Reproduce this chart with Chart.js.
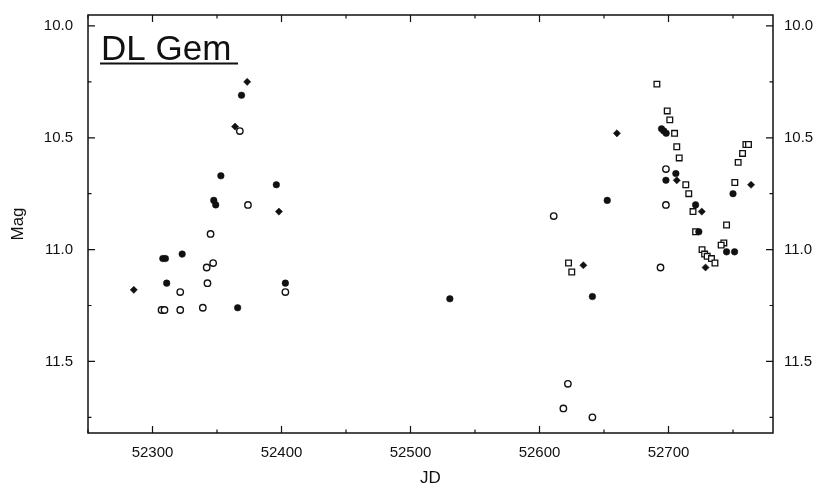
<!DOCTYPE html>
<html>
<head>
<meta charset="utf-8">
<script src="https://cdn.jsdelivr.net/npm/chart.js@4"></script>
<style>
  html, body { margin: 0; padding: 0; background: #fff; }
</style>
</head>
<body>
<canvas id="chart" width="819" height="493"></canvas>
<script>
// tick labels
const xTicks = [52300, 52400, 52500, 52600, 52700];
const yTicks = [10.0, 10.5, 11.0, 11.5];

// filled dots
const dotJD  = [52308, 52310, 52311, 52323, 52347.5, 52349, 52353, 52369, 52366, 52396, 52403,
                52530.5, 52641, 52652.5, 52694.6, 52696.4, 52698.2, 52705.7, 52698, 52750,
                52721, 52723.5, 52745, 52751.2];
const dotMag = [11.04, 11.04, 11.15, 11.02, 10.78, 10.80, 10.67, 10.31, 11.26, 10.71, 11.15,
                11.22, 11.21, 10.78, 10.46, 10.47, 10.48, 10.66, 10.69, 10.75,
                10.80, 10.92, 11.01, 11.01];

// filled diamonds
const diaJD  = [52285.5, 52364, 52373.4, 52398, 52634, 52660, 52706.4, 52725.8, 52728.7, 52764];
const diaMag = [11.18, 10.45, 10.25, 10.83, 11.07, 10.48, 10.69, 10.83, 11.08, 10.71];

// open circles
const ringJD  = [52367.7, 52374, 52345, 52347, 52342, 52342.6, 52403, 52321.5, 52307, 52309.3,
                 52321.5, 52339, 52611, 52622, 52618.5, 52641, 52698, 52698, 52693.8];
const ringMag = [10.47, 10.80, 10.93, 11.06, 11.08, 11.15, 11.19, 11.19, 11.27, 11.27,
                 11.27, 11.26, 10.85, 11.60, 11.71, 11.75, 10.64, 10.80, 11.08];

// open squares
const sqJD  = [52622.5, 52625, 52691, 52699, 52701, 52704.7, 52706.4, 52708.3, 52713.4, 52715.7,
               52719, 52721, 52745, 52751.4, 52754, 52757.4, 52760, 52762, 52742.9, 52740.8,
               52726, 52728, 52730, 52733.3, 52736];
const sqMag = [11.06, 11.10, 10.26, 10.38, 10.42, 10.48, 10.54, 10.59, 10.71, 10.75,
               10.83, 10.92, 10.89, 10.70, 10.61, 10.57, 10.53, 10.53, 10.97, 10.98,
               11.00, 11.02, 11.03, 11.04, 11.06];

const pts = (xs, ys) => xs.map((x, i) => ({ x: x, y: ys[i] }));

Chart.defaults.font.family = '"Liberation Sans", Arial, sans-serif';
Chart.defaults.color = '#111';

// box, inward ticks and the star name
const frame = {
  id: 'frame',
  afterDraw(chart) {
    const { ctx, chartArea: a, scales } = chart;
    const xs = scales.x, ys = scales.y;
    ctx.save();
    ctx.strokeStyle = '#111';
    ctx.lineWidth = 1.5;
    ctx.strokeRect(a.left, a.top, a.right - a.left, a.bottom - a.top);
    ctx.lineWidth = 1.2;
    ctx.beginPath();
    for (let v = 52250; v <= xs.max; v += 50) {
      const px = xs.getPixelForValue(v);
      const len = v % 100 === 0 ? 7 : 3.5;
      ctx.moveTo(px, a.bottom); ctx.lineTo(px, a.bottom - len);
      ctx.moveTo(px, a.top); ctx.lineTo(px, a.top + len);
    }
    for (let v = 10; v <= ys.max; v += 0.25) {
      const py = ys.getPixelForValue(v);
      const len = Math.abs(v * 2 - Math.round(v * 2)) < 1e-6 ? 7 : 3.5;
      ctx.moveTo(a.left, py); ctx.lineTo(a.left + len, py);
      ctx.moveTo(a.right, py); ctx.lineTo(a.right - len, py);
    }
    ctx.stroke();

    ctx.fillStyle = '#111';
    ctx.font = '35px "Liberation Sans", Arial, sans-serif';
    ctx.textBaseline = 'alphabetic';
    ctx.fillText('DL Gem', a.left + 13, a.top + 45);
    ctx.lineWidth = 2;
    ctx.beginPath();
    ctx.moveTo(a.left + 12, a.top + 48.5);
    ctx.lineTo(a.left + 150, a.top + 48.5);
    ctx.stroke();
    ctx.restore();
  }
};

const noPadV = s => { s.paddingTop = 0; s.paddingBottom = 0; };

new Chart(document.getElementById('chart'), {
  type: 'scatter',
  data: {
    datasets: [
      { data: pts(ringJD, ringMag), pointStyle: 'circle', pointRadius: 3.2,
        backgroundColor: '#fff', borderColor: '#111', borderWidth: 1.4 },
      { data: pts(dotJD, dotMag), pointStyle: 'circle', pointRadius: 3.3,
        backgroundColor: '#111', borderColor: '#111', borderWidth: 0.5 },
      { data: pts(diaJD, diaMag), pointStyle: 'rectRot', pointRadius: 3.6,
        backgroundColor: '#111', borderColor: '#111', borderWidth: 0.5 },
      { data: pts(sqJD, sqMag), pointStyle: 'rect', pointRadius: 4,
        backgroundColor: '#fff', borderColor: '#111', borderWidth: 1.3 }
    ]
  },
  options: {
    responsive: false,
    animation: false,
    devicePixelRatio: 1,
    layout: { padding: { top: 15, left: 0, right: 0, bottom: 0 } },
    plugins: { legend: { display: false }, tooltip: { enabled: false } },
    scales: {
      x: {
        type: 'linear', min: 52250, max: 52781,
        grid: { display: false, drawTicks: false },
        border: { display: false },
        afterBuildTicks: s => { s.ticks = xTicks.map(v => ({ value: v })); },
        afterFit: s => { s.height = 60; s.paddingLeft = 0; s.paddingRight = 0; },
        ticks: { padding: 11, font: { size: 15 }, callback: v => String(v) },
        title: { display: true, text: 'JD', font: { size: 17 }, padding: { bottom: 4, top: 0 } }
      },
      y: {
        type: 'linear', position: 'left', reverse: true, min: 9.951, max: 11.82,
        grid: { display: false, drawTicks: false },
        border: { display: false },
        afterBuildTicks: s => { s.ticks = yTicks.map(v => ({ value: v })); },
        afterFit: s => { s.width = 88; noPadV(s); },
        ticks: { padding: 15, font: { size: 15 }, callback: v => Number(v).toFixed(1) },
        title: { display: true, text: 'Mag', font: { size: 17 }, padding: { top: 8, bottom: 0 } }
      },
      y2: {
        type: 'linear', position: 'right', reverse: true, min: 9.951, max: 11.82,
        grid: { display: false, drawTicks: false },
        border: { display: false },
        afterBuildTicks: s => { s.ticks = yTicks.map(v => ({ value: v })); },
        afterFit: s => { s.width = 46; noPadV(s); },
        ticks: { padding: 11, font: { size: 15 }, callback: v => Number(v).toFixed(1) }
      }
    }
  },
  plugins: [frame]
});
</script>
</body>
</html>
